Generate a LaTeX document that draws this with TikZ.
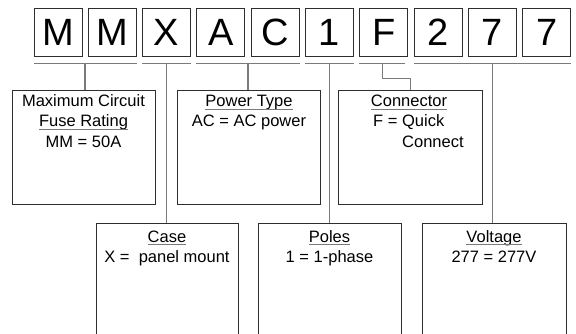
\documentclass[tikz,border=0pt]{standalone}
\usepackage{fontspec}
\setmainfont{Liberation Sans}
\definecolor{boxc}{HTML}{2E2E2E}
\definecolor{linec}{HTML}{7A7A7A}
\newsavebox\ulbox
\newcommand\ultext[1]{\sbox\ulbox{#1}\rlap{\usebox\ulbox}\textcolor{linec}{\rule[-2.8pt]{\wd\ulbox}{0.9pt}}}
\begin{document}
\begin{tikzpicture}[x=1pt,y=-1pt,
  letterbox/.style={draw=boxc, line width=0.9pt, minimum width=48pt, minimum height=48pt, inner sep=0pt, font=\fontsize{38}{38}\selectfont},
  infobox/.style={draw=boxc, line width=0.9pt, anchor=north west, inner sep=0pt, minimum width=143pt},
  conn/.style={draw=linec, line width=1.4pt},
  lbl/.style={anchor=base, inner sep=0pt, font=\fontsize{16.5}{20}\selectfont},
  lblw/.style={lbl, anchor=base west}]
\useasboundingbox (0,0) rectangle (576,334);
\clip (0,0) rectangle (576,334);
% letter boxes
\foreach \ch [count=\i] in {M,M,X,A,C,1,F,2,7,7}
  \node[letterbox] (l\i) at ({58+(\i-1)*54.3},32) {\ch};
% underlines
\draw[conn] ([yshift=-7pt]l1.south west) -- coordinate (u1) ([yshift=-7pt]l2.south east);
\draw[conn] ([yshift=-7pt]l3.south west) -- coordinate (u2) ([yshift=-7pt]l3.south east);
\draw[conn] ([yshift=-7pt]l4.south west) -- coordinate (u3) ([yshift=-7pt]l5.south east);
\draw[conn] ([yshift=-7pt]l6.south west) -- coordinate (u4) ([yshift=-7pt]l6.south east);
\draw[conn] ([yshift=-7pt]l7.south west) -- coordinate (u5) ([yshift=-7pt,xshift=-3pt]l7.south east);
\draw[conn] ([yshift=-7pt]l8.south west) -- coordinate (u6) ([yshift=-7pt]l10.south east);
% info boxes
\node[infobox, minimum height=114pt] (maxbox) at (12,90) {};
\node[infobox, minimum height=114pt] (powbox) at (177,90) {};
\node[infobox, minimum height=114pt, minimum width=144pt] (conbox) at (338,90) {};
\node[infobox, minimum height=130pt, minimum width=142pt] (casebox) at (96,223) {};
\node[infobox, minimum height=130pt] (polbox) at (258,223) {};
\node[infobox, minimum height=130pt, minimum width=144pt] (volbox) at (422,223) {};
% connectors
\draw[conn] (u1) -- (u1 |- maxbox.north);
\draw[conn] (u2) -- (u2 |- casebox.north);
\draw[conn] (u3) -- (u3 |- powbox.north);
\draw[conn] (u4) -- (u4 |- polbox.north);
\draw[conn] (u5) -- ++(0,15) coordinate (bend) -| (conbox.north);
\draw[conn] (u6) -- (u6 |- volbox.north);
% texts
\node[lbl] (t1) at (83.5,107) {Maximum Circuit};
\node[lbl] (t2) at (83.5,127) {\ultext{Fuse Rating}};
\node[lbl] (t3) at (83.5,148) {MM = 50A};
\node[lbl] (t4) at (249,107) {\ultext{Power Type}};
\node[lbl] (t5) at (249,127) {AC = AC power};
\node[lbl] (t6) at (409,107) {\ultext{Connector}};
\node[lblw] (t7) at (373,127) {F = Quick};
\node[lblw] (t8) at (402,148) {Connect};
\node[lbl] (t9) at (167,242) {\ultext{Case}};
\node[lbl] (t10) at (167,262) {X =\ \ panel mount};
\node[lbl] (t11) at (329.5,242) {\ultext{Poles}};
\node[lbl] (t12) at (329.5,262) {1 = 1-phase};
\node[lbl] (t13) at (494,242) {\ultext{Voltage}};
\node[lbl] (t14) at (494,262) {277 = 277V};
\end{tikzpicture}
\end{document}
